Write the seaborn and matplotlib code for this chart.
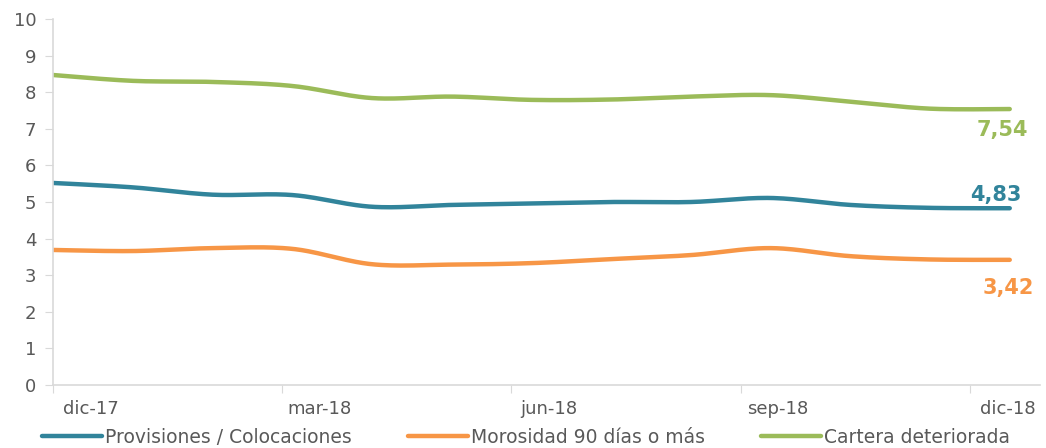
import numpy as np
import pandas as pd
import seaborn as sns
import matplotlib.pyplot as plt

# Datos mensuales dic-17 .. dic-18 (en %)
meses = ['dic-17', 'ene-18', 'feb-18', 'mar-18', 'abr-18', 'may-18', 'jun-18',
         'jul-18', 'ago-18', 'sep-18', 'oct-18', 'nov-18', 'dic-18']
provisiones = [5.52, 5.40, 5.20, 5.19, 4.87, 4.92, 4.96, 5.00, 5.00, 5.11, 4.92, 4.84, 4.83]
morosidad = [3.69, 3.66, 3.74, 3.72, 3.30, 3.29, 3.33, 3.44, 3.55, 3.74, 3.52, 3.43, 3.42]
cartera = [8.47, 8.31, 8.28, 8.17, 7.84, 7.88, 7.79, 7.80, 7.88, 7.92, 7.74, 7.55, 7.54]
etiquetas_x = ['dic-17', 'mar-18', 'jun-18', 'sep-18', 'dic-18']

series = {
    'Provisiones / Colocaciones': provisiones,
    'Morosidad 90 días o más': morosidad,
    'Cartera deteriorada': cartera,
}
colores = {
    'Provisiones / Colocaciones': '#31849B',
    'Morosidad 90 días o más': '#F79646',
    'Cartera deteriorada': '#9BBB59',
}


def suavizar(y, n=25):
    # Catmull-Rom, parecido al suavizado de Excel
    y = np.asarray(y, dtype=float)
    x = np.arange(len(y), dtype=float)
    px = np.concatenate([[x[0]], x, [x[-1]]])
    py = np.concatenate([[y[0]], y, [y[-1]]])
    xs, ys = [], []
    t = np.linspace(0, 1, n, endpoint=False)
    for i in range(1, len(px) - 2):
        for p, out in ((px, xs), (py, ys)):
            p0, p1, p2, p3 = p[i - 1], p[i], p[i + 1], p[i + 2]
            out.extend(0.5 * ((2 * p1) + (-p0 + p2) * t
                              + (2 * p0 - 5 * p1 + 4 * p2 - p3) * t ** 2
                              + (-p0 + 3 * p1 - 3 * p2 + p3) * t ** 3))
    xs.append(x[-1])
    ys.append(y[-1])
    return np.array(xs), np.array(ys)


filas = []
for nombre, valores in series.items():
    xs, ys = suavizar(valores)
    filas.append(pd.DataFrame({'x': xs, 'valor': ys, 'serie': nombre}))
df = pd.concat(filas, ignore_index=True)

sns.set_style('white')
plt.rcParams['font.family'] = ['DejaVu Sans']
gris = '#595959'

fig = plt.figure(figsize=(10.46, 4.48), dpi=100)
ax = fig.add_axes([0.0507, 0.1406, 0.9436, 0.817])

sns.lineplot(data=df, x='x', y='valor', hue='serie', palette=colores,
             linewidth=3.2, sort=False, estimator=None, ax=ax)
for line in ax.get_lines():
    line.set_solid_capstyle('round')

# Etiquetas finales
ult = len(meses) - 1
offsets = {
    'Provisiones / Colocaciones': (-14, 13),
    'Morosidad 90 días o más': (-1, -28),
    'Cartera deteriorada': (-7, -21),
}
for nombre, valores in series.items():
    ax.annotate(f'{valores[-1]:.2f}'.replace('.', ','), (ult, valores[-1]),
                xytext=offsets[nombre], textcoords='offset pixels',
                ha='center', va='center', color=colores[nombre],
                fontsize=15, fontweight='bold')

ax.set_ylim(0, 10)
ax.set_yticks(range(0, 11))
ax.set_xlim(0, 12.38)
paso = 2.875
ax.set_xticks([i * paso for i in range(5)])
ax.set_xticklabels([])
ax.set_xticks([i * paso + 0.47 for i in range(5)], minor=True)
ax.set_xticklabels(etiquetas_x, minor=True)
ax.tick_params(axis='x', which='major', length=6, color='#d9d9d9', direction='out', bottom=True)
ax.tick_params(axis='x', which='minor', length=0, pad=11, labelsize=13, labelcolor=gris)
ax.tick_params(axis='y', length=6, color='#d9d9d9', direction='out', left=True,
               labelsize=13, labelcolor=gris, pad=6)
ax.set_xlabel('')
ax.set_ylabel('')

sns.despine(ax=ax, top=True, right=True)
for s in ('left', 'bottom'):
    ax.spines[s].set_color('#d9d9d9')
    ax.spines[s].set_linewidth(1.2)

handles, labels = ax.get_legend_handles_labels()
ax.get_legend().remove()
fig.legend(handles, labels, loc='lower center', bbox_to_anchor=(0.503, -0.035),
           ncol=3, frameon=False, fontsize=13.5, labelcolor=gris,
           handlelength=3.2, handletextpad=0.15, columnspacing=3.0)

fig.savefig('out.png', dpi=100)
